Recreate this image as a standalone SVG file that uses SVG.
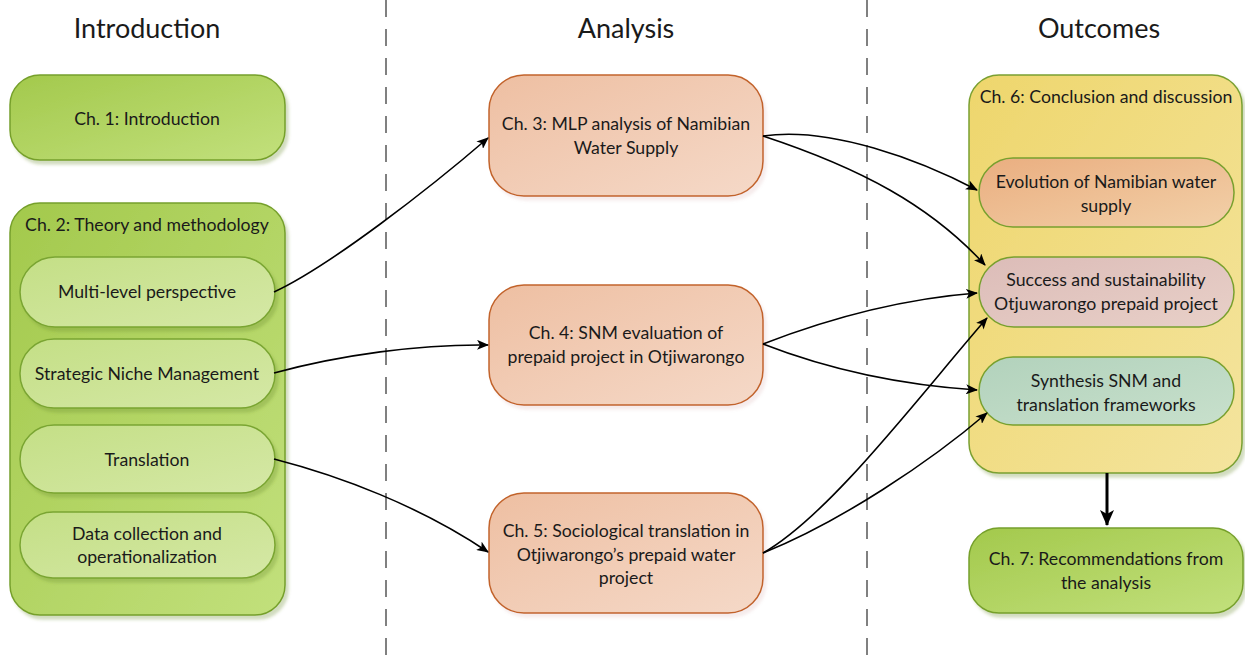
<svg xmlns="http://www.w3.org/2000/svg" width="1245" height="659" viewBox="0 0 1245 659">
  <defs>
    <linearGradient id="gGreen" x1="0" y1="0" x2="1" y2="1">
      <stop offset="0" stop-color="#a3c94c"/>
      <stop offset="1" stop-color="#c2e07c"/>
    </linearGradient>
    <linearGradient id="gGreenLight" x1="0" y1="0" x2="1" y2="1">
      <stop offset="0" stop-color="#c4df86"/>
      <stop offset="1" stop-color="#d5e8a6"/>
    </linearGradient>
    <linearGradient id="gOrange" x1="0" y1="0" x2="1" y2="1">
      <stop offset="0" stop-color="#eebfa2"/>
      <stop offset="1" stop-color="#f5d9c8"/>
    </linearGradient>
    <linearGradient id="gYellow" x1="0" y1="0" x2="1" y2="1">
      <stop offset="0" stop-color="#eed66c"/>
      <stop offset="1" stop-color="#f4e49e"/>
    </linearGradient>
    <linearGradient id="gEvo" x1="0" y1="0" x2="1" y2="1">
      <stop offset="0" stop-color="#eaae80"/>
      <stop offset="1" stop-color="#f2d0a8"/>
    </linearGradient>
    <linearGradient id="gPink" x1="0" y1="0" x2="1" y2="1">
      <stop offset="0" stop-color="#dcbcb8"/>
      <stop offset="1" stop-color="#e8d0c8"/>
    </linearGradient>
    <linearGradient id="gTeal" x1="0" y1="0" x2="1" y2="1">
      <stop offset="0" stop-color="#b2d2bc"/>
      <stop offset="1" stop-color="#c8e0cc"/>
    </linearGradient>
    <filter id="shadow" x="-10%" y="-10%" width="130%" height="140%">
      <feDropShadow dx="3" dy="4" stdDeviation="1.5" flood-color="#6b8a30" flood-opacity="0.3"/>
    </filter>
    <filter id="shadowO" x="-10%" y="-10%" width="130%" height="140%">
      <feDropShadow dx="3" dy="4" stdDeviation="1.5" flood-color="#c08080" flood-opacity="0.15"/>
    </filter>
    <marker id="arrow" viewBox="0 0 12 10" refX="11" refY="5" markerWidth="12" markerHeight="10" markerUnits="userSpaceOnUse" orient="auto">
      <path d="M0,0 L12,5 L0,10 L3,5 Z" fill="#000"/>
    </marker>
    <marker id="arrowBig" viewBox="0 0 16 14" refX="15" refY="7" markerWidth="16" markerHeight="14" markerUnits="userSpaceOnUse" orient="auto">
      <path d="M0,0 L16,7 L0,14 L4,7 Z" fill="#000"/>
    </marker>
  </defs>
  <style>
    text { font-family: Lato, "Open Sans", "Liberation Sans", sans-serif; fill: #1a1a1a; text-anchor: middle; }
    .hdr { font-size: 27px; }
    .lbl { font-size: 17.7px; }
    .green { fill: url(#gGreen); stroke: #76a02c; stroke-width: 1.5; filter: url(#shadow); }
    .greenL { fill: url(#gGreenLight); stroke: #7aa532; stroke-width: 1.5; filter: url(#shadow); }
    .orange { fill: url(#gOrange); stroke: #c2632c; stroke-width: 1.5; filter: url(#shadowO); }
    .yellow { fill: url(#gYellow); stroke: #7aa032; stroke-width: 1.5; filter: url(#shadow); }
    .evo { fill: url(#gEvo); stroke: #78a02e; stroke-width: 1.5; }
    .pink { fill: url(#gPink); stroke: #78a02e; stroke-width: 1.5; }
    .teal { fill: url(#gTeal); stroke: #78a02e; stroke-width: 1.5; }
    .div { stroke: #808080; stroke-width: 2; stroke-dasharray: 17 12; fill: none; }
    .conn { fill: none; stroke: #000; stroke-width: 1.6; marker-end: url(#arrow); }
  </style>

  <rect width="1245" height="659" fill="#ffffff"/>

  <!-- column dividers -->
  <line class="div" x1="386" y1="0" x2="386" y2="659"/>
  <line class="div" x1="867" y1="0" x2="867" y2="659"/>

  <!-- column headings -->
  <text class="hdr" x="147" y="38">Introduction</text>
  <text class="hdr" x="626" y="38">Analysis</text>
  <text class="hdr" x="1099" y="38">Outcomes</text>

  <!-- Introduction column -->
  <g id="ch1">
    <rect class="green" x="10" y="75" width="275" height="85" rx="30"/>
    <text class="lbl" x="147" y="125">Ch. 1: Introduction</text>
  </g>

  <g id="ch2">
    <rect class="green" x="10" y="203" width="275" height="412" rx="30"/>
    <text class="lbl" x="147" y="231">Ch. 2: Theory and methodology</text>
  </g>

  <g id="mlp">
    <rect class="greenL" x="20" y="257" width="255" height="70" rx="35"/>
    <text class="lbl" x="147" y="298">Multi-level perspective</text>
  </g>

  <g id="snm">
    <rect class="greenL" x="20" y="339" width="255" height="69" rx="34"/>
    <text class="lbl" x="147" y="380">Strategic Niche Management</text>
  </g>

  <g id="translation">
    <rect class="greenL" x="20" y="425" width="255" height="68" rx="34"/>
    <text class="lbl" x="147" y="466">Translation</text>
  </g>

  <g id="data">
    <rect class="greenL" x="20" y="512" width="255" height="66" rx="33"/>
    <text class="lbl" x="147" y="540">Data collection and</text>
    <text class="lbl" x="147" y="563">operationalization</text>
  </g>

  <!-- Analysis column -->
  <g id="ch3">
    <rect class="orange" x="489" y="75" width="274" height="121" rx="35"/>
    <text class="lbl" x="626" y="130">Ch. 3: MLP analysis of Namibian</text>
    <text class="lbl" x="626" y="154">Water Supply</text>
  </g>

  <g id="ch4">
    <rect class="orange" x="489" y="285" width="274" height="120" rx="35"/>
    <text class="lbl" x="626" y="339">Ch. 4: SNM evaluation of</text>
    <text class="lbl" x="626" y="363">prepaid project in Otjiwarongo</text>
  </g>

  <g id="ch5">
    <rect class="orange" x="489" y="493" width="274" height="120" rx="35"/>
    <text class="lbl" x="626" y="537">Ch. 5: Sociological translation in</text>
    <text class="lbl" x="626" y="561">Otjiwarongo’s prepaid water</text>
    <text class="lbl" x="626" y="584">project</text>
  </g>

  <!-- Outcomes column -->
  <g id="ch6">
    <rect class="yellow" x="969" y="75" width="273" height="398" rx="30"/>
    <text class="lbl" x="1106" y="103">Ch. 6: Conclusion and discussion</text>
  </g>

  <g id="evolution">
    <rect class="evo" x="979" y="158" width="255" height="69" rx="34"/>
    <text class="lbl" x="1106" y="188">Evolution of Namibian water</text>
    <text class="lbl" x="1106" y="212">supply</text>
  </g>

  <g id="success">
    <rect class="pink" x="979" y="257" width="255" height="70" rx="35"/>
    <text class="lbl" x="1106" y="286">Success and sustainability</text>
    <text class="lbl" x="1106" y="310">Otjuwarongo prepaid project</text>
  </g>

  <g id="synthesis">
    <rect class="teal" x="979" y="357" width="255" height="68" rx="34"/>
    <text class="lbl" x="1106" y="387">Synthesis SNM and</text>
    <text class="lbl" x="1106" y="411">translation frameworks</text>
  </g>

  <g id="ch7">
    <rect class="green" x="969" y="528" width="274" height="85" rx="30"/>
    <text class="lbl" x="1106" y="565">Ch. 7: Recommendations from</text>
    <text class="lbl" x="1106" y="589">the analysis</text>
  </g>

  <!-- connectors -->
  <g id="connectors">
    <path class="conn" d="M274,292 C330,266 430,188 488,138"/>
    <path class="conn" d="M274,373 C340,355 420,344 488,345"/>
    <path class="conn" d="M274,459 C340,476 420,506 488,552"/>
    <path class="conn" d="M763,136 C830,126 920,160 977,190"/>
    <path class="conn" d="M763,136 C860,168 930,205 985,265"/>
    <path class="conn" d="M763,344 C830,318 900,299 977,293"/>
    <path class="conn" d="M763,344 C830,370 900,385 977,390"/>
    <path class="conn" d="M763,553 C830,515 920,395 987,318"/>
    <path class="conn" d="M763,553 C840,522 930,462 987,413"/>
    <path fill="none" stroke="#000" stroke-width="3" marker-end="url(#arrowBig)" d="M1107,473 L1107,525"/>
  </g>
</svg>
